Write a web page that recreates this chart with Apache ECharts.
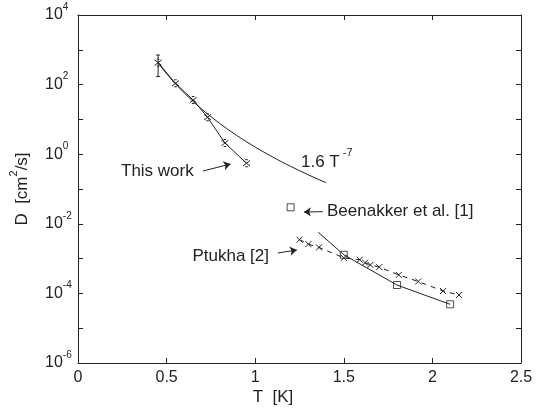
<!DOCTYPE html>
<html><head><meta charset="utf-8">
<script src="https://cdn.jsdelivr.net/npm/echarts@6/dist/echarts.min.js"></script>
<style>html,body{margin:0;padding:0;background:#fff}#c{width:546px;height:414px}</style>
</head><body><div id="c"></div>
<script>
// ---- data ----
const thisWorkT = [0.452, 0.55, 0.65, 0.731, 0.829, 0.951];
const thisWorkD = [427, 109, 36, 11.5, 2.1, 0.55];
const errorBarT = [0.452, 0.452];
const errorBarD = [708, 170];
const powerLawT = [0.45, 0.5, 0.55, 0.6, 0.65, 0.7, 0.75, 0.8, 0.85, 0.9, 0.95, 1.0, 1.05, 1.1, 1.15, 1.2, 1.25, 1.3, 1.35, 1.4];
const powerLawD = [428, 205, 105, 57.2, 32.6, 19.4, 12.0, 7.63, 4.99, 3.35, 2.29, 1.6, 1.14, 0.821, 0.601, 0.447, 0.336, 0.255, 0.196, 0.152];
const beenakkerT = [1.2, 1.5, 1.8, 2.1];
const beenakkerD = [0.0298, 1.29e-3, 1.74e-4, 4.86e-5];
const beenakkerFitT = [1.356, 1.5, 1.8, 2.1];
const beenakkerFitD = [5.7e-3, 1.29e-3, 1.74e-4, 4.86e-5];
const ptukhaT = [1.25, 1.30, 1.36, 1.50, 1.59, 1.62, 1.65, 1.70, 1.81, 1.92, 2.06, 2.15];
const ptukhaD = [3.5e-3, 2.6e-3, 2.1e-3, 1.05e-3, 9.3e-4, 7.6e-4, 6.6e-4, 5.7e-4, 3.4e-4, 2.2e-4, 1.17e-4, 9.0e-5];
const xTickLabels = ['0', '0.5', '1', '1.5', '2', '2.5'];
const yTickExponents = [-6, -4, -2, 0, 2, 4];
// annotation arrows: [fromT, fromD, toT, toD]
const arrowThisWork = [0.705, 0.329, 0.861, 0.522];
const arrowBeenakker = [1.381, 0.0223, 1.275, 0.0218];
const arrowPtukha = [1.128, 1.45e-3, 1.235, 1.77e-3];

const INK = '#222';
const zip = (a, b) => a.map((v, i) => [v, b[i]]);
const xMark = 'path://M0,0L10,10M0,10L10,0';
const xCapMark = 'path://M1,1L9,9M1,9L9,1M3.5,0L6.5,0M3.5,10L6.5,10';

const chart = echarts.init(document.getElementById('c'), null, {renderer: 'canvas'});
const baseX = {
  type: 'value', min: 0, max: 2.5, interval: 0.5,
  axisLine: {show: true, onZero: false, lineStyle: {color: INK, width: 1}},
  axisTick: {show: true, inside: true, length: 5, lineStyle: {color: INK}},
  splitLine: {show: false}
};
const baseY = {
  type: 'log', logBase: 10, min: 1e-6, max: 1e4, interval: 1,
  axisLine: {show: true, onZero: false, lineStyle: {color: INK, width: 1}},
  axisTick: {show: true, inside: true, length: 5, lineStyle: {color: INK}},
  splitLine: {show: false}, minorTick: {show: false}
};
function arrowLine(a) {
  return [{coord: [a[0], a[1]], symbol: 'none'}, {coord: [a[2], a[3]], symbol: 'arrow'}];
}
chart.setOption({
  animation: false,
  backgroundColor: '#fff',
  textStyle: {fontFamily: 'Liberation Sans, Arial, sans-serif'},
  grid: {left: 78, right: 25, top: 15, bottom: 51, outerBoundsMode: 'none'},
  xAxis: [
    Object.assign({}, baseX, {position: 'bottom',
      axisLabel: {fontSize: 16, color: INK, margin: 7,
        formatter: v => xTickLabels[Math.round(v / 0.5)] ?? ''}}),
    Object.assign({}, baseX, {position: 'top', axisLabel: {show: false}})
  ],
  yAxis: [
    Object.assign({}, baseY, {position: 'left',
      axisLabel: {interval: 1, align: 'left', margin: 33, color: INK,
        formatter: v => {
          const e = Math.round(Math.log10(v));
          return yTickExponents.includes(e) ? '{b|10}{s|' + e + '}' : '';
        },
        rich: {b: {fontSize: 16, lineHeight: 26, color: INK},
               s: {fontSize: 10, lineHeight: 10, verticalAlign: 'top', color: INK}}}}),
    Object.assign({}, baseY, {position: 'right', axisLabel: {show: false}})
  ],
  series: [
    {name: '1.6 T^-7', type: 'line', data: zip(powerLawT, powerLawD), showSymbol: false,
     symbol: 'none', lineStyle: {color: INK, width: 1}, z: 2},
    {name: 'This work', type: 'line', data: zip(thisWorkT, thisWorkD), symbol: xCapMark, symbolSize: 7,
     lineStyle: {color: INK, width: 1}, itemStyle: {color: 'rgba(0,0,0,0)', borderColor: INK, borderWidth: 1}, z: 3},
    {name: 'error', type: 'line', data: zip(errorBarT, errorBarD), symbol: 'rect', symbolSize: [4, 1],
     lineStyle: {color: INK, width: 1}, itemStyle: {color: INK}, z: 3},
    {name: 'Beenakker fit', type: 'line', data: zip(beenakkerFitT, beenakkerFitD), symbol: 'none',
     lineStyle: {color: INK, width: 1}, z: 2},
    {name: 'Beenakker et al. [1]', type: 'scatter', data: zip(beenakkerT, beenakkerD), symbol: 'rect', symbolSize: 7,
     itemStyle: {color: 'rgba(0,0,0,0)', borderColor: INK, borderWidth: 1}, z: 4},
    {name: 'Ptukha [2]', type: 'line', data: zip(ptukhaT, ptukhaD), symbol: xMark, symbolSize: 6,
     lineStyle: {color: INK, width: 1, type: [5, 5]},
     itemStyle: {color: 'rgba(0,0,0,0)', borderColor: INK, borderWidth: 1}, z: 3},
    {name: 'arrows', type: 'line', data: [], silent: true,
     markLine: {silent: true, animation: false, symbolSize: 7, label: {show: false},
       lineStyle: {color: INK, width: 1, type: 'solid'}, itemStyle: {color: INK},
       emphasis: {disabled: true},
       data: [arrowLine(arrowThisWork), arrowLine(arrowBeenakker), arrowLine(arrowPtukha)]}}
  ],
  graphic: [
    {type: 'text', left: 121, top: 163, style: {text: 'This work', fontSize: 17, fill: INK, fontFamily: 'Liberation Sans'}},
    {type: 'text', left: 301, top: 147, style: {text: '{a|1.6 T}{s| -7}', fill: INK, fontFamily: 'Liberation Sans',
      rich: {a: {fontSize: 17, lineHeight: 30, fill: INK}, s: {fontSize: 11, lineHeight: 11, verticalAlign: 'top', fill: INK}}}},
    {type: 'text', left: 327, top: 203, style: {text: 'Beenakker et al. [1]', fontSize: 17, fill: INK, fontFamily: 'Liberation Sans'}},
    {type: 'text', right: 277, top: 248, style: {text: 'Ptukha [2]', fontSize: 17, fill: INK, fontFamily: 'Liberation Sans'}},
    {type: 'text', left: 'center', top: 389, style: {text: 'T  [K]', fontSize: 17, fill: INK, fontFamily: 'Liberation Sans'}},
    {type: 'text', x: 22, y: 189, rotation: Math.PI / 2,
     style: {text: '{a|D  [cm}{s|2}{a|/s]}', align: 'center', verticalAlign: 'middle', fill: INK, fontFamily: 'Liberation Sans',
       rich: {a: {fontSize: 17, lineHeight: 28, fill: INK}, s: {fontSize: 11, lineHeight: 11, verticalAlign: 'top', fill: INK}}}}
  ]
});
</script>
</body></html>
